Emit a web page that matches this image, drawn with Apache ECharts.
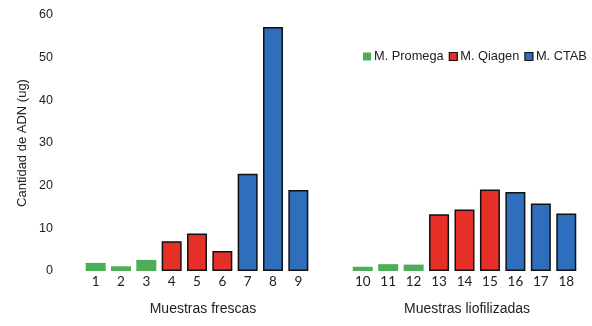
<!DOCTYPE html>
<html><head><meta charset="utf-8">
<script src="https://cdn.jsdelivr.net/npm/echarts@6/dist/echarts.min.js"></script>
<style>html,body{margin:0;padding:0;background:#fff}#c{width:592px;height:326px}</style>
</head><body><div id="c"></div>
<script>
var freshCategories = ['1','2','3','4','5','6','7','8','9'];
var lyoCategories = ['10','11','12','13','14','15','16','17','18'];
var freshValues = [1.9, 1.1, 2.6, 7.0, 8.8, 4.7, 22.8, 57.2, 19.0];
var lyoValues = [1.0, 1.6, 1.5, 13.3, 14.4, 19.1, 18.5, 15.8, 13.5];
var methodNames = ['M. Promega', 'M. Qiagen', 'M. CTAB'];
var methodOfBar = [0,0,0,1,1,1,2,2,2];
var yTicks = [0, 10, 20, 30, 40, 50, 60];

var colors = ['#4DAD58', '#E63027', '#2E6EBD'];
var font = 'Liberation Sans, Arial, sans-serif';

function seriesFor(values, gridIdx) {
  return methodNames.map(function (name, m) {
    return {
      name: name, type: 'bar', xAxisIndex: gridIdx, yAxisIndex: gridIdx,
      barWidth: 20, barGap: '-100%',
      itemStyle: { color: colors[m], borderColor: m === 0 ? colors[m] : '#111', borderWidth: m === 0 ? 0 : 1.5 },
      data: values.map(function (v, i) { return methodOfBar[i] === m ? v : '-'; })
    };
  });
}

var chart = echarts.init(document.getElementById('c'));
chart.setOption({
  animation: false,
  legend: {
    left: 358, top: 45, width: 234, padding: [5, 0, 5, 5], itemWidth: 8, itemHeight: 8, itemGap: 5,
    textStyle: { fontFamily: font, fontSize: 12.8, color: '#222', padding: [0,0,0,-2] },
    data: methodNames.map(function (n, m) {
      return { name: n, icon: 'rect', itemStyle: { color: colors[m], borderColor: m === 0 ? colors[m] : '#111', borderWidth: m === 0 ? 0 : 1.2 } };
    })
  },
  grid: [
    { left: 83, width: 228, top: 15, bottom: 55 },
    { left: 350, width: 229, top: 15, bottom: 55 }
  ],
  xAxis: [
    { type: 'category', gridIndex: 0, data: freshCategories, name: 'Muestras frescas', nameLocation: 'middle', nameGap: 31,
      nameTextStyle: { fontFamily: font, fontSize: 14, color: '#222', padding: [0,0,0,12] },
      axisLine: { show: false }, axisTick: { show: false },
      axisLabel: { fontFamily: 'Lato, sans-serif', fontSize: 13.5, color: '#222', margin: 4 } },
    { type: 'category', gridIndex: 1, data: lyoCategories, name: 'Muestras liofilizadas', nameLocation: 'middle', nameGap: 31,
      nameTextStyle: { fontFamily: font, fontSize: 14, color: '#222', padding: [0,0,0,5] },
      axisLine: { show: false }, axisTick: { show: false },
      axisLabel: { fontFamily: 'Lato, sans-serif', fontSize: 13.5, color: '#222', margin: 4 } }
  ],
  yAxis: [
    { type: 'value', gridIndex: 0, min: yTicks[0], max: yTicks[yTicks.length - 1], interval: 10,
      name: 'Cantidad de ADN (ug)', nameLocation: 'middle', nameGap: 54,
      nameTextStyle: { fontFamily: font, fontSize: 13, color: '#222' },
      axisLine: { show: false }, axisTick: { show: false }, splitLine: { show: false },
      axisLabel: { fontFamily: font, fontSize: 12.5, color: '#222', margin: 30 } },
    { type: 'value', gridIndex: 1, min: yTicks[0], max: yTicks[yTicks.length - 1], interval: 10,
      axisLine: { show: false }, axisTick: { show: false }, splitLine: { show: false }, axisLabel: { show: false } }
  ],
  series: seriesFor(freshValues, 0).concat(seriesFor(lyoValues, 1))
});
</script></body></html>
